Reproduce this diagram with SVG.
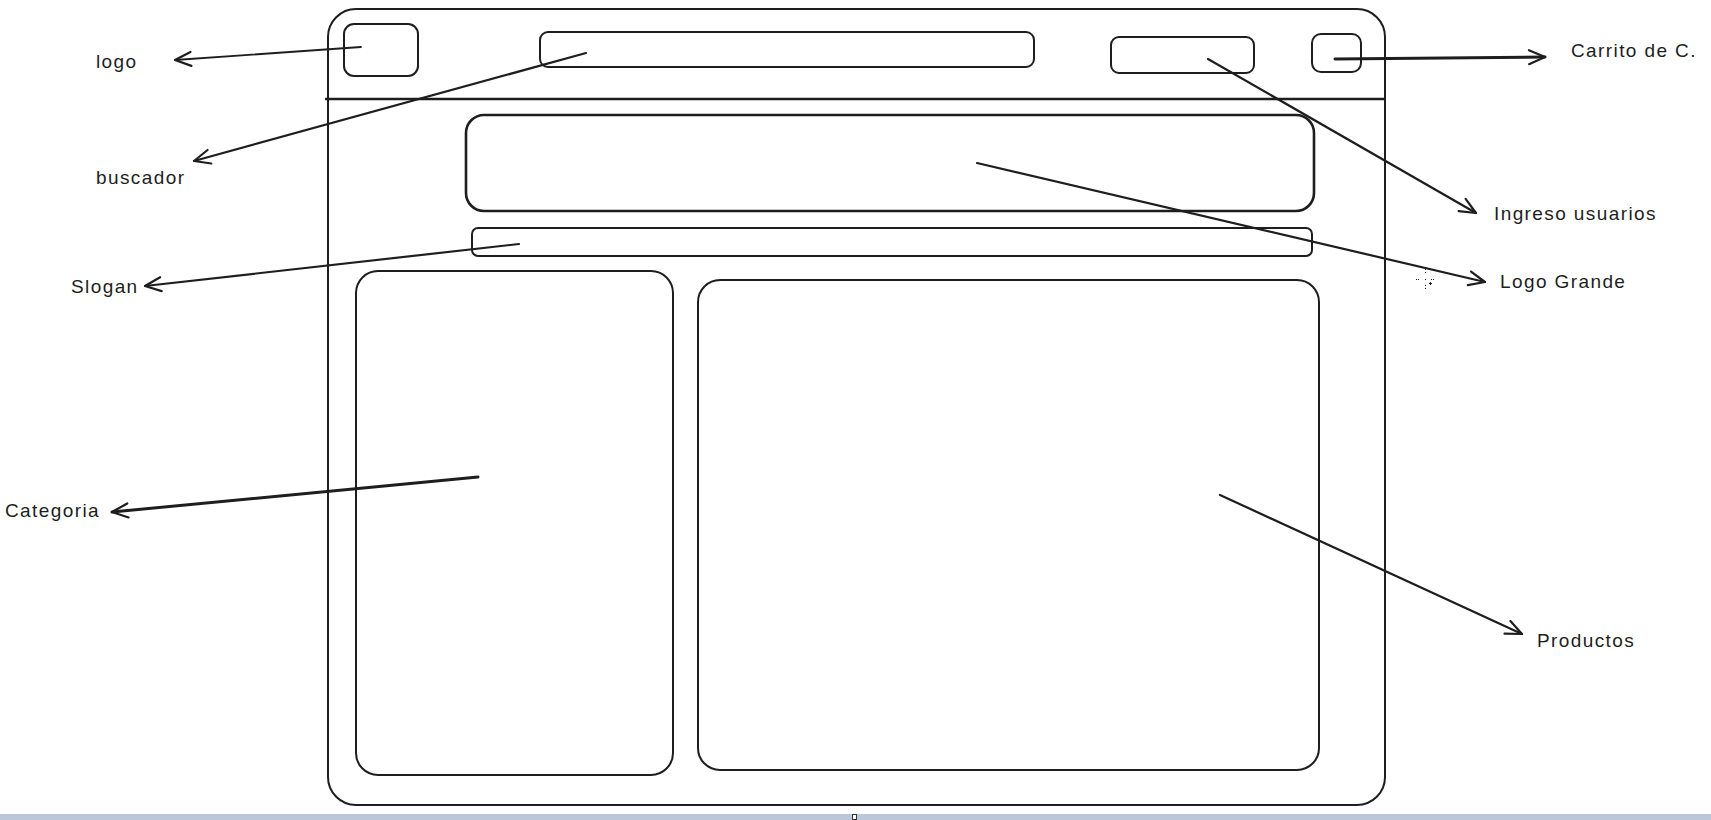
<svg xmlns="http://www.w3.org/2000/svg" width="1711" height="820" viewBox="0 0 1711 820">
<defs>
<style>
.box{fill:none;stroke:#1e1e1e;stroke-width:2;stroke-linejoin:round}
.thick{stroke-width:2.6}
.conn{fill:none;stroke:#1e1e1e;stroke-width:2.2;stroke-linecap:round}
.lbl{font-family:"Liberation Sans",Arial,sans-serif;font-size:19px;letter-spacing:1.4px;fill:#1e1e1e}
.dot{fill:#1e1e1e}
</style>
<marker id="ah" viewBox="-20 -10 24 20" refX="0" refY="0" markerWidth="24" markerHeight="20" markerUnits="userSpaceOnUse" orient="auto">
<path d="M -16 -7 L 0 0 L -16 7" fill="none" stroke="#1e1e1e" stroke-width="2.2" stroke-linecap="round" stroke-linejoin="round"/>
</marker>
</defs>
<rect x="0" y="0" width="1711" height="820" fill="#ffffff"/>
<g id="frame">
<rect class="box" x="328" y="9" width="1057" height="796" rx="28"/>
<line class="box thick" x1="325" y1="99" x2="1385" y2="99"/>
</g>
<g id="logo-box"><rect class="box" x="344" y="24" width="74" height="52" rx="10"/></g>
<g id="search-box"><rect class="box" x="540" y="32" width="494" height="35" rx="8"/></g>
<g id="user-box"><rect class="box" x="1111" y="37" width="143" height="36" rx="8"/></g>
<g id="cart-box"><rect class="box" x="1312" y="34" width="49" height="38" rx="9"/></g>
<g id="hero-box"><rect class="box thick" x="466" y="115" width="848" height="96" rx="18"/></g>
<g id="slogan-box"><rect class="box" x="472" y="228" width="840" height="28" rx="6"/></g>
<g id="category-box"><rect class="box" x="356" y="271" width="317" height="504" rx="22"/></g>
<g id="products-box"><rect class="box" x="698" y="280" width="621" height="490" rx="22"/></g>
<g id="connectors">
<line class="conn" style="stroke-width:1.8" x1="361" y1="47" x2="175" y2="60" marker-end="url(#ah)"/>
<line class="conn" x1="586" y1="53" x2="194" y2="161" marker-end="url(#ah)"/>
<line class="conn" x1="519" y1="244" x2="145" y2="286" marker-end="url(#ah)"/>
<line class="conn" style="stroke-width:3" x1="478" y1="477" x2="112" y2="512" marker-end="url(#ah)"/>
<line class="conn" style="stroke-width:3" x1="1335" y1="59" x2="1545" y2="57" marker-end="url(#ah)"/>
<line class="conn" x1="1208" y1="59" x2="1476" y2="213" marker-end="url(#ah)"/>
<line class="conn" x1="977" y1="163" x2="1485" y2="282" marker-end="url(#ah)"/>
<line class="conn" x1="1220" y1="495" x2="1522" y2="634" marker-end="url(#ah)"/>
</g>
<g id="labels">
<text class="lbl" x="96" y="68">logo</text>
<text class="lbl" x="96" y="184">buscador</text>
<text class="lbl" x="71" y="293">Slogan</text>
<text class="lbl" x="5" y="517">Categoria</text>
<text class="lbl" x="1571" y="57">Carrito de C.</text>
<text class="lbl" x="1494" y="220">Ingreso usuarios</text>
<text class="lbl" x="1500" y="288">Logo Grande</text>
<text class="lbl" x="1537" y="647">Productos</text>
</g>
<g id="cursor">
<rect class="dot" x="1425" y="269" width="1" height="1"/>
<rect class="dot" x="1425" y="272" width="1" height="1"/>
<rect class="dot" x="1416" y="279" width="1" height="1"/>
<rect class="dot" x="1418" y="279" width="1" height="1"/>
<rect class="dot" x="1425" y="279" width="1" height="1"/>
<rect class="dot" x="1431" y="279" width="1" height="1"/>
<rect class="dot" x="1433" y="279" width="1" height="1"/>
<rect class="dot" x="1425" y="285" width="1" height="1"/>
<rect class="dot" x="1425" y="288" width="1" height="1"/>
<rect class="dot" x="1429" y="283" width="3" height="1"/>
<rect class="dot" x="1430" y="282" width="1" height="3"/>
</g>
<g id="statusbar">
<rect x="0" y="814" width="1711" height="6" fill="#bcc8da"/>
<rect x="852.5" y="814.5" width="4" height="5" fill="#ffffff" stroke="#333" stroke-width="1"/>
</g>
</svg>
